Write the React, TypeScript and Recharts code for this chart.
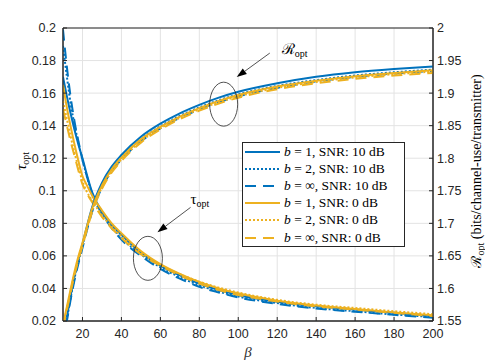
import React from 'react'
import {
  LineChart,
  Line,
  XAxis,
  YAxis,
  CartesianGrid,
  Legend,
  ReferenceArea,
  ReferenceDot,
  ReferenceLine,
} from 'recharts'

const BLUE = '#0072BD'
const YELLOW = '#EDB120'
const INK = '#262626'
const SERIF = '"Liberation Serif", "DejaVu Serif", serif'
const SANS = '"Liberation Sans", Arial, sans-serif'

// beta samples
const BETA = [10, 12, 14, 16, 18, 20, 22, 25, 30, 35, 40, 50, 60, 70, 80, 90, 100, 120, 140, 160, 180, 200]

// tau_opt (left axis)
const tauB1Snr10 = [0.17, 0.158, 0.147, 0.137, 0.128, 0.12, 0.111, 0.099, 0.087, 0.079, 0.073, 0.062, 0.054, 0.048, 0.043, 0.039, 0.036, 0.0318, 0.029, 0.027, 0.025, 0.023]
const tauB2Snr10 = [0.189, 0.17, 0.153, 0.14, 0.129, 0.119, 0.11, 0.098, 0.086, 0.078, 0.071, 0.061, 0.053, 0.047, 0.042, 0.038, 0.035, 0.031, 0.028, 0.026, 0.024, 0.0225]
const tauBinfSnr10 = [0.199, 0.176, 0.157, 0.142, 0.13, 0.119, 0.11, 0.098, 0.086, 0.077, 0.07, 0.06, 0.052, 0.046, 0.041, 0.0375, 0.0345, 0.0305, 0.0277, 0.0257, 0.0238, 0.022]
const tauB1Snr0 = [0.165, 0.151, 0.139, 0.128, 0.118, 0.109, 0.104, 0.097, 0.088, 0.08, 0.074, 0.063, 0.055, 0.049, 0.044, 0.04, 0.037, 0.0325, 0.0295, 0.0273, 0.0253, 0.0235]
const tauB2Snr0 = [0.155, 0.144, 0.133, 0.123, 0.114, 0.106, 0.1, 0.094, 0.085, 0.078, 0.072, 0.062, 0.0545, 0.0488, 0.0442, 0.0405, 0.0375, 0.033, 0.03, 0.028, 0.026, 0.0242]
const tauBinfSnr0 = [0.15, 0.14, 0.13, 0.121, 0.112, 0.104, 0.099, 0.093, 0.084, 0.077, 0.071, 0.061, 0.054, 0.048, 0.043, 0.039, 0.036, 0.032, 0.029, 0.027, 0.025, 0.023]

// R_opt (right axis)
const rB1Snr10 = [1.525, 1.556, 1.59, 1.62, 1.645, 1.668, 1.692, 1.725, 1.762, 1.787, 1.805, 1.833, 1.853, 1.869, 1.882, 1.893, 1.902, 1.915, 1.925, 1.932, 1.937, 1.941]
const rB2Snr10 = [1.522, 1.553, 1.587, 1.617, 1.642, 1.665, 1.689, 1.721, 1.758, 1.783, 1.801, 1.829, 1.849, 1.865, 1.878, 1.889, 1.898, 1.911, 1.92, 1.927, 1.932, 1.936]
const rBinfSnr10 = [1.518, 1.55, 1.584, 1.614, 1.639, 1.662, 1.686, 1.718, 1.755, 1.78, 1.798, 1.826, 1.846, 1.862, 1.875, 1.886, 1.895, 1.908, 1.918, 1.925, 1.93, 1.934]
const rB1Snr0 = [1.545, 1.572, 1.6, 1.627, 1.65, 1.67, 1.692, 1.723, 1.758, 1.783, 1.801, 1.829, 1.848, 1.864, 1.877, 1.888, 1.897, 1.91, 1.919, 1.926, 1.931, 1.935]
const rB2Snr0 = [1.542, 1.569, 1.597, 1.624, 1.647, 1.667, 1.689, 1.72, 1.755, 1.78, 1.798, 1.826, 1.846, 1.862, 1.875, 1.886, 1.895, 1.908, 1.917, 1.924, 1.929, 1.933]
const rBinfSnr0 = [1.54, 1.567, 1.595, 1.622, 1.645, 1.665, 1.687, 1.718, 1.753, 1.778, 1.796, 1.824, 1.844, 1.86, 1.873, 1.884, 1.893, 1.906, 1.915, 1.922, 1.927, 1.931]

const X_TICKS = [20, 40, 60, 80, 100, 120, 140, 160, 180, 200]
const TAU_TICKS = [0.02, 0.04, 0.06, 0.08, 0.1, 0.12, 0.14, 0.16, 0.18, 0.2]
const RATE_TICKS = [1.55, 1.6, 1.65, 1.7, 1.75, 1.8, 1.85, 1.9, 1.95, 2]

const DOTTED = '2 2'
const DASHED = '11 7'

const SERIES = [
  { key: 'b1_10', b: '1', snr: '10', color: BLUE, dash: undefined, tau: tauB1Snr10, rate: rB1Snr10 },
  { key: 'b2_10', b: '2', snr: '10', color: BLUE, dash: DOTTED, tau: tauB2Snr10, rate: rB2Snr10 },
  { key: 'binf_10', b: '∞', snr: '10', color: BLUE, dash: DASHED, tau: tauBinfSnr10, rate: rBinfSnr10 },
  { key: 'b1_0', b: '1', snr: '0', color: YELLOW, dash: undefined, tau: tauB1Snr0, rate: rB1Snr0 },
  { key: 'b2_0', b: '2', snr: '0', color: YELLOW, dash: DOTTED, tau: tauB2Snr0, rate: rB2Snr0 },
  { key: 'binf_0', b: '∞', snr: '0', color: YELLOW, dash: DASHED, tau: tauBinfSnr0, rate: rBinfSnr0 },
]

const data = BETA.map((beta, i) => {
  const row: Record<string, number> = { beta }
  SERIES.forEach((s) => {
    row[`tau_${s.key}`] = s.tau[i]
    row[`r_${s.key}`] = s.rate[i]
  })
  return row
})

const fmt = (v: number) => String(parseFloat(v.toFixed(2)))
const tickStyle = { fontFamily: SANS, fontSize: 12.5, fill: INK }

// ellipse drawn around a group of curves
const Ellipse = ({ cx, cy, rx, ry }: any) => (
  <ellipse cx={cx} cy={cy} rx={rx} ry={ry} fill="none" stroke={INK} strokeWidth={0.8} />
)

// arrow with a label at its tail
const Arrow = ({ x1, y1, x2, y2, label, dx, dy }: any) => {
  const ang = Math.atan2(y2 - y1, x2 - x1)
  const len = 10
  const w = 3.5
  const bx = x2 - len * Math.cos(ang)
  const by = y2 - len * Math.sin(ang)
  const px = -Math.sin(ang) * w
  const py = Math.cos(ang) * w
  return (
    <g>
      <line x1={x1} y1={y1} x2={bx} y2={by} stroke={INK} strokeWidth={0.8} />
      <polygon points={`${x2},${y2} ${bx + px},${by + py} ${bx - px},${by - py}`} fill="#000" />
      <text x={x1 + dx} y={y1 + dy} fontFamily={SERIF} fontSize={15} fill="#000">
        {label.main}
        <tspan fontSize={10} dy={3}>opt</tspan>
      </text>
    </g>
  )
}

const LegendBox = () => (
  <div
    style={{
      width: 163,
      height: 105,
      boxSizing: 'border-box',
      border: `1px solid ${INK}`,
      background: '#fff',
      paddingTop: 0,
      fontFamily: SERIF,
      fontSize: 13.5,
      color: '#000',
    }}
  >
    {SERIES.map((s) => (
      <div key={s.key} style={{ display: 'flex', alignItems: 'center', height: 17.2, whiteSpace: 'nowrap' }}>
        <svg width={38} height={6} style={{ marginLeft: 1 }}>
          <line x1={1} y1={3} x2={36} y2={3} stroke={s.color} strokeWidth={2} strokeDasharray={s.dash} />
        </svg>
        <span style={{ marginLeft: 2 }}>
          <i>b</i> = {s.b}, SNR: {s.snr} dB
        </span>
      </div>
    ))}
  </div>
)

export default function App() {
  return (
    <div style={{ position: 'absolute', left: 0, top: 0, width: 485, height: 363, background: '#fff' }}>
      <LineChart width={485} height={363} data={data} margin={{ top: 28, right: 0, bottom: 0, left: 13 }}>
        <CartesianGrid stroke="#e3e3e3" strokeWidth={1} yAxisId="tau" />
        <XAxis
          dataKey="beta"
          type="number"
          domain={[10, 200]}
          ticks={X_TICKS}
          allowDataOverflow
          height={42}
          tick={tickStyle}
          tickSize={-4}
          tickMargin={12}
          stroke={INK}
          label={{
            content: () => (
              <text x={248} y={357} textAnchor="middle" fontFamily={SERIF} fontStyle="italic" fontSize={15} fill="#333">
                β
              </text>
            ),
          }}
        />
        <YAxis
          yAxisId="tau"
          orientation="left"
          type="number"
          domain={[0.02, 0.2]}
          ticks={TAU_TICKS}
          tickFormatter={fmt}
          allowDataOverflow
          width={50}
          tick={tickStyle}
          tickSize={-4}
          tickMargin={11}
          stroke={INK}
          label={{
            content: () => (
              <text x={26} y={161} transform="rotate(-90 26 161)" textAnchor="middle" fontFamily={SERIF} fontSize={15} fill="#000">
                <tspan fontStyle="italic">τ</tspan>
                <tspan fontSize={10} dy={3}>opt</tspan>
              </text>
            ),
          }}
        />
        <YAxis
          yAxisId="rate"
          orientation="right"
          type="number"
          domain={[1.55, 2]}
          ticks={RATE_TICKS}
          tickFormatter={fmt}
          allowDataOverflow
          width={52}
          tick={tickStyle}
          tickSize={-4}
          tickMargin={8}
          stroke={INK}
          label={{
            content: () => (
              <text x={481} y={171} transform="rotate(-90 481 171)" textAnchor="middle" fontFamily={SERIF} fontSize={14} fill="#000">
                ℛ<tspan fontSize={10} dy={3}>opt</tspan>
                <tspan dy={-3}> (bits/channel-use/transmitter)</tspan>
              </text>
            ),
          }}
        />
        <ReferenceArea
          yAxisId="tau"
          x1={10}
          x2={200}
          y1={0.02}
          y2={0.2}
          fill="none"
          stroke={INK}
          strokeWidth={1}
          ifOverflow="visible"
        />
        {SERIES.map((s) => (
          <Line
            key={`tau_${s.key}`}
            yAxisId="tau"
            dataKey={`tau_${s.key}`}
            type="monotone"
            stroke={s.color}
            strokeWidth={2}
            strokeDasharray={s.dash}
            dot={false}
            activeDot={false}
            isAnimationActive={false}
          />
        ))}
        {SERIES.map((s) => (
          <Line
            key={`r_${s.key}`}
            yAxisId="rate"
            dataKey={`r_${s.key}`}
            type="monotone"
            stroke={s.color}
            strokeWidth={2}
            strokeDasharray={s.dash}
            dot={false}
            activeDot={false}
            isAnimationActive={false}
          />
        ))}
        <ReferenceDot yAxisId="rate" x={92.5} y={1.883} shape={(p: any) => <Ellipse cx={p.cx} cy={p.cy} rx={14} ry={22} />} />
        <ReferenceDot yAxisId="tau" x={53.6} y={0.0585} shape={(p: any) => <Ellipse cx={p.cx} cy={p.cy} rx={14.5} ry={22} />} />
        <ReferenceLine
          yAxisId="rate"
          segment={[{ x: 116.2, y: 1.9615 }, { x: 99.2, y: 1.9246 }]}
          shape={(p: any) => <Arrow {...p} label={{ main: 'ℛ' }} dx={12} dy={1} />}
        />
        <ReferenceLine
          yAxisId="tau"
          segment={[{ x: 75.5, y: 0.0898 }, { x: 58.5, y: 0.0745 }]}
          shape={(p: any) => <Arrow {...p} label={{ main: 'τ' }} dx={0} dy={-3} />}
        />
        <Legend
          layout="horizontal"
          align="center"
          verticalAlign="middle"
          content={<LegendBox />}
          wrapperStyle={{ left: 242, top: 142, width: 163, height: 105 }}
        />
      </LineChart>
    </div>
  )
}
